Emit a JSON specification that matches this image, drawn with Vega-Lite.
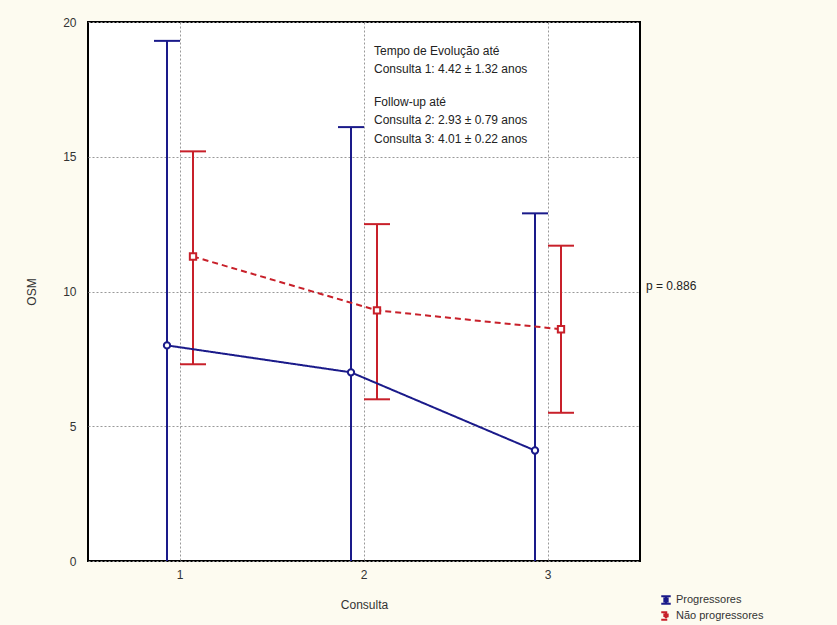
{
  "$schema": "https://vega.github.io/schema/vega-lite/v6.json",
  "autosize": {"type": "none"},
  "width": 552,
  "height": 539,
  "padding": {"left": 88, "top": 22, "right": 197, "bottom": 64},
  "background": "#fdfbf0",
  "config": {
    "font": "Liberation Sans",
    "view": {"fill": "white", "stroke": "black", "strokeWidth": 2},
    "axis": {
      "labelFont": "Liberation Sans", "titleFont": "Liberation Sans",
      "labelFontSize": 12, "titleFontSize": 12, "labelColor": "#333333", "titleColor": "#333333",
      "titleFontWeight": "normal", "domain": false,
      "gridColor": "#999999", "gridDash": [2, 2], "gridWidth": 1,
      "tickColor": "black", "tickWidth": 2
    }
  },
  "data": {"values": [
    {"Consulta": "1", "Grupo": "Progressores", "media": 8.0, "inf": 0, "sup": 19.3},
    {"Consulta": "2", "Grupo": "Progressores", "media": 7.0, "inf": 0, "sup": 16.1},
    {"Consulta": "3", "Grupo": "Progressores", "media": 4.1, "inf": 0, "sup": 12.9},
    {"Consulta": "1", "Grupo": "Não progressores", "media": 11.3, "inf": 7.3, "sup": 15.2},
    {"Consulta": "2", "Grupo": "Não progressores", "media": 9.3, "inf": 6.0, "sup": 12.5},
    {"Consulta": "3", "Grupo": "Não progressores", "media": 8.6, "inf": 5.5, "sup": 11.7}
  ]},
  "encoding": {
    "x": {"field": "Consulta", "type": "ordinal",
      "scale": {"type": "band", "domain": ["1", "2", "3"], "paddingInner": 0, "paddingOuter": 0},
      "axis": {"title": "Consulta", "labelAngle": 0, "bandPosition": 0.5, "grid": true, "ticks": false, "labelPadding": 8, "titleY": 38}},
    "xOffset": {"field": "Grupo", "type": "nominal",
      "scale": {"type": "point", "domain": ["Progressores", "Não progressores"], "range": [79, 105], "padding": 0}}
  },
  "layer": [
    {
      "mark": {"type": "rule", "strokeWidth": 2},
      "encoding": {
        "y": {"field": "inf", "type": "quantitative", "scale": {"domain": [0, 20]},
          "axis": {"title": "OSM", "values": [0, 5, 10, 15, 20], "grid": true, "ticks": false, "labelPadding": 12, "titleX": -50}},
        "y2": {"field": "sup"},
        "color": {"field": "Grupo", "type": "nominal",
          "scale": {"domain": ["Progressores", "Não progressores"], "range": ["#1a1a8a", "#c8202a"]},
          "legend": {"title": null, "orient": "none", "legendX": 572, "legendY": 572,
            "symbolType": "M-1,-0.8H1M0,-0.8V0.8M-1,0.8H1M-0.35,-0.3H0.35V0.3H-0.35Z",
            "symbolSize": 90, "symbolStrokeWidth": 2, "symbolFillColor": "white", "symbolDash": [1, 0],
            "labelFontSize": 11, "labelColor": "#333333",
            "labelFont": "Liberation Sans", "rowPadding": 0, "labelOffset": 4}}
      }
    },
    {
      "mark": {"type": "tick", "thickness": 2, "size": 26, "opacity": 1},
      "encoding": {
        "y": {"field": "sup", "type": "quantitative"},
        "color": {"field": "Grupo", "type": "nominal"}
      }
    },
    {
      "transform": [{"filter": "datum.inf > 0"}],
      "mark": {"type": "tick", "thickness": 2, "size": 26, "opacity": 1},
      "encoding": {
        "y": {"field": "inf", "type": "quantitative"},
        "color": {"field": "Grupo", "type": "nominal"}
      }
    },
    {
      "mark": {"type": "line", "strokeWidth": 2},
      "encoding": {
        "y": {"field": "media", "type": "quantitative"},
        "color": {"field": "Grupo", "type": "nominal"},
        "strokeDash": {"field": "Grupo", "type": "nominal",
          "scale": {"domain": ["Progressores", "Não progressores"], "range": [[1, 0], [6, 4]]}, "legend": null}
      }
    },
    {
      "transform": [{"filter": "datum.Grupo == 'Progressores'"}],
      "mark": {"type": "point", "shape": "circle", "filled": false, "fill": "white", "stroke": "#1a1a8a", "strokeWidth": 2, "size": 40, "opacity": 1},
      "encoding": {
        "y": {"field": "media", "type": "quantitative"}
      }
    },
    {
      "transform": [{"filter": "datum.Grupo == 'Não progressores'"}],
      "mark": {"type": "point", "shape": "square", "filled": false, "fill": "white", "stroke": "#c8202a", "strokeWidth": 2, "size": 40, "opacity": 1},
      "encoding": {
        "y": {"field": "media", "type": "quantitative"}
      }
    },
    {
      "data": {"values": [
        {"Consulta": "2", "valor": 19.12, "texto": ["Tempo de Evolução até", "Consulta 1: 4.42 ± 1.32 anos"]},
        {"Consulta": "2", "valor": 17.22, "texto": ["Follow-up até", "Consulta 2: 2.93 ± 0.79 anos", "Consulta 3: 4.01 ± 0.22 anos"]}
      ]},
      "mark": {"type": "text", "align": "left", "baseline": "top", "dx": 10, "fontSize": 12, "lineHeight": 18.5, "color": "#222222", "font": "Liberation Sans"},
      "encoding": {
        "xOffset": null,
        "y": {"field": "valor", "type": "quantitative"},
        "text": {"field": "texto"}
      }
    },
    {
      "data": {"values": [{"Consulta": "3", "valor": 10.2, "texto": "p = 0.886"}]},
      "mark": {"type": "text", "align": "left", "baseline": "middle", "dx": 98, "fontSize": 12, "color": "#222222", "font": "Liberation Sans"},
      "encoding": {
        "xOffset": null,
        "y": {"field": "valor", "type": "quantitative"},
        "text": {"field": "texto"}
      }
    }
  ]
}
